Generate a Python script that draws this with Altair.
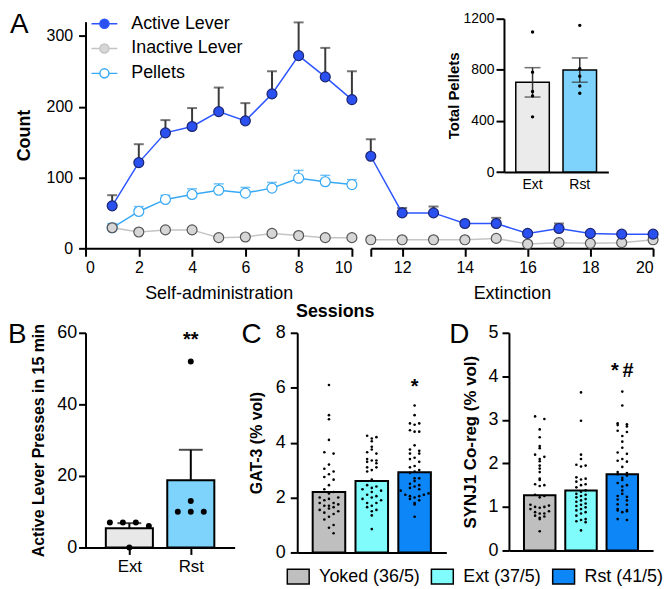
import altair as alt
import pandas as pd

FONT = "Liberation Sans"

# ---------------- Panel A: lever presses / pellets ----------------
sa_sessions = [1, 2, 3, 4, 5, 6, 7, 8, 9, 10]
ext_sessions = [11, 12, 13, 14, 15, 16, 17, 18, 19, 20]
active_sa = [60, 121, 163, 172, 193, 180, 218, 272, 242, 210]
active_sa_sem = [15, 26, 18, 26, 34, 25, 32, 47, 41, 40]
inactive_sa = [29, 23, 26, 26, 15, 16, 21, 18, 15, 15]
pellets_sa = [29, 52, 69, 76, 82, 78, 85, 99, 94, 90]
pellets_sa_sem = [6, 7, 6, 8, 9, 8, 8, 11, 9, 7]
active_ext = [130, 50, 50, 35, 35, 21, 28, 21, 20, 20]
active_ext_sem = [24, 7, 9, 2, 8, 2, 7, 1, 1, 1]
inactive_ext = [12, 12, 12, 12, 14, 6, 8, 7, 8, 12]

series_names = ["Active Lever", "Inactive Lever", "Pellets"]
line_colors = ["#2d55ff", "#c4c4c4", "#38a9f5"]
marker_fills = ["#2a50f0", "#d6d6d6", "#ffffff"]
marker_edges = ["#1b2470", "#555555", "#38a9f5"]

# inset: total pellets
inset_groups = ["Ext", "Rst"]
inset_mean = [702, 798]
inset_sem = [115, 95]
inset_fills = ["#ebebeb", "#7dd3fb"]
inset_ext_pts = [1096, 782, 630, 596, 432]
inset_rst_pts = [1148, 808, 749, 674, 617]

# ---------------- Panel B ----------------
b_groups = ["Ext", "Rst"]
b_mean = [5.4, 18.8]
b_sem = [1.4, 8.5]
b_fills = ["#e8e8e8", "#7dd3fb"]
b_ext_pts = [7, 7, 7, 6, 0]
b_ext_off = [-1.5, -0.5, 0.5, 1.5, 0]
b_rst_pts = [52, 13, 10, 10, 10]
b_rst_off = [0, 0, -1, 0, 1]
b_sig = "**"
b_sig_y = 58

# ---------------- Panels C / D ----------------
cd_groups = ["Yoked (36/5)", "Ext (37/5)", "Rst (41/5)"]
cd_colors = ["#bfbfbf", "#80fcfc", "#0d86f8"]

c_mean = [2.2, 2.6, 2.92]
c_yoked = [6.1, 5.0, 4.85, 4.1, 3.65, 3.6, 3.2, 3.05, 2.95, 2.85, 2.75, 2.65, 2.45, 2.3, 2.2, 2.15, 2.0, 2.0,
           1.95, 1.9, 1.8, 1.8, 1.75, 1.7, 1.7, 1.65, 1.6, 1.55, 1.5, 1.45, 1.4, 1.3, 1.2, 1.0, 0.9, 0.7]
c_yoked_off = [0, 0, 0, 0, -1, 1, 0, -1, 1, 0, -1, 1, 0, -1, 1, 0, -2, 2,
               0, -1, 1, -2, 2, 0, -1, 1, 0, -2, 2, -1, 1, 0, -1, 1, 0, 1]
c_ext = [4.25, 4.2, 4.15, 4.05, 3.85, 3.75, 3.65, 3.6, 3.4, 3.35, 3.35, 3.3, 3.25, 3.1, 3.1, 3.0, 2.95, 2.65,
         2.45, 2.4, 2.35, 2.3, 2.25, 2.2, 2.1, 2.05, 2.0, 1.95, 1.9, 1.8, 1.8, 1.7, 1.65, 1.55, 1.5, 1.35, 0.85]
c_ext_off = [-1, 1, 0, 0, 0, 0, -1, 1, -1, 0, 1, -1, 1, -1, 1, 0, -1, 0,
             -1, 1, 0, -2, 2, 0, -1, 1, 0, -2, 2, -1, 1, 0, -1, 1, 0, 0, 0]
c_rst = [5.35, 5.0, 4.7, 4.7, 4.65, 4.45, 4.4, 4.4, 3.9, 3.75, 3.7, 3.6, 3.6, 3.45, 3.4, 3.3, 3.15, 3.1, 3.0, 2.95,
         2.9, 2.7, 2.7, 2.6, 2.5, 2.45, 2.4, 2.35, 2.3, 2.25, 2.15, 2.1, 2.1, 2.05, 2.05, 2.0, 1.95, 1.9, 1.8, 1.75, 1.3]
c_rst_off = [0, 0, -1, 1, 0, -1, 1, 0, 0, -1, 1, -1, 1, 0, -1, 1, 0, -1, 1, 0,
             -1, 0, 1, 0, -1, 1, 0, -1, 1, -3, 3, -2, 2, -1, 1, 0, -1, 1, 0, 0, 0]
c_sig = "*"
c_sig_y = 6.03

d_mean = [1.27, 1.38, 1.75]
d_yoked = [3.08, 3.02, 2.78, 2.6, 2.4, 2.35, 2.2, 2.15, 2.1, 2.05, 1.95, 1.88, 1.8, 1.65, 1.62, 1.52, 1.5, 1.48,
           1.28, 1.25, 1.22, 1.05, 1.03, 1.0, 1.0, 0.98, 0.95, 0.9, 0.88, 0.85, 0.85, 0.8, 0.78, 0.75, 0.72, 0.44]
d_yoked_off = [-1, 1, 0, 0, 0, 0, -1, 1, 0, 0, 0, 0, 0, 0, 0, -1, 1, 0,
               -1, 1, 0, -2, 2, -1, 1, 0, -2, 2, -1, 1, 0, -1, 1, 0, 0, 0]
d_ext = [3.63, 2.98, 2.2, 2.1, 1.97, 1.95, 1.93, 1.68, 1.65, 1.63, 1.58, 1.52, 1.5, 1.45, 1.38, 1.35, 1.3, 1.28,
         1.25, 1.22, 1.18, 1.15, 1.12, 1.08, 1.05, 1.02, 0.99, 0.95, 0.92, 0.88, 0.85, 0.8, 0.72, 0.7, 0.67, 0.65, 0.46]
d_ext_off = [0, 0, 0, 0, -1, 1, 0, -1, 1, 0, -1, 1, 0, -1, 1, 0, -1, 1,
             0, -1, 1, 0, -1, 1, 0, -1, 1, 0, -1, 1, 0, -1, 1, 0, -1, 1, 0]
d_rst = [3.65, 3.33, 2.92, 2.9, 2.88, 2.85, 2.75, 2.72, 2.63, 2.5, 2.36, 2.25, 2.22, 2.1, 2.06, 2.04, 1.92, 1.8,
         1.78, 1.75, 1.72, 1.67, 1.62, 1.55, 1.5, 1.47, 1.38, 1.3, 1.25, 1.23, 1.17, 1.15, 1.06, 1.05, 0.95, 0.93,
         0.92, 0.9, 0.88, 0.72, 0.7]
d_rst_off = [0, 0, -1, 1, -1, 1, -1, 1, 0, 0, 0, -1, 1, 0, -1, 1, 0, -1,
             1, -1, 1, 0, 0, -1, 1, 0, 0, 0, -1, 1, -1, 1, -1, 1, -1, 1,
             -1, 1, 0, -1, 1]
d_sig = "*\u2009#"
d_sig_y = 4.12


# ============ helpers ============
def series_df(sessions, vals, sems, name):
    idx = series_names.index(name)
    return pd.DataFrame({
        "session": sessions,
        "value": vals,
        "hi": [v + s for v, s in zip(vals, sems)],
        "series": name,
        "edge": marker_edges[idx],
    })


def letter_layer(letter, xpx, ypx):
    return alt.Chart(pd.DataFrame({"t": [letter]})).mark_text(
        align="left", baseline="alphabetic", fontSize=28, font=FONT, color="black"
    ).encode(x=alt.value(xpx), y=alt.value(ypx), text="t:N")


def cat_label_expr(names):
    arr = ",".join("'" + n + "'" for n in names)
    return "[" + arr + "][datum.value]"


SYM_LINE_CIRCLE = ("M-1,0H-0.35M0.35,0H1M-0.35,0A0.35,0.35,0,1,1,0.35,0"
                   "A0.35,0.35,0,1,1,-0.35,0Z")

legA = alt.Legend(orient="none", legendX=5, legendY=-12, title=None,
                  symbolType=SYM_LINE_CIRCLE, symbolSize=676, symbolStrokeWidth=1.5,
                  labelFontSize=18, labelFont=FONT, labelColor="black", labelOffset=13,
                  rowPadding=2, padding=0, symbolOpacity=1)

stroke_scale = alt.Scale(domain=series_names, range=line_colors)
fill_scale = alt.Scale(domain=series_names, range=marker_fills)


def yA(field, show):
    if not show:
        return alt.Y(field, scale=alt.Scale(domain=[0, 320], nice=False), axis=None)
    return alt.Y(field, scale=alt.Scale(domain=[0, 320], nice=False),
                 axis=alt.Axis(values=[0, 100, 200, 300], title="Count", titleFontSize=18,
                               titleFontWeight="bold", labelFontSize=16, labelPadding=6,
                               titlePadding=13))


def a_layers(df, xenc, first, pellets):
    leg = legA if first else None
    base = alt.Chart(df)
    layers = []
    act = base.transform_filter("datum.series == 'Active Lever'")
    layers.append(act.mark_rule(color="#3a3a3a", strokeWidth=2).encode(
        x=xenc, y=yA("value:Q", first), y2="hi:Q"))
    layers.append(act.mark_tick(orient="horizontal", color="#3a3a3a", size=10, thickness=2)
                  .encode(x=xenc, y=yA("hi:Q", first)))
    if pellets:
        pel = base.transform_filter("datum.series == 'Pellets'")
        layers.append(pel.mark_rule(color="#38a9f5", strokeWidth=1.5).encode(
            x=xenc, y=yA("value:Q", first), y2="hi:Q"))
        layers.append(pel.mark_tick(orient="horizontal", color="#38a9f5", size=10, thickness=1.5)
                      .encode(x=xenc, y=yA("hi:Q", first)))
    layers.append(base.mark_line(strokeWidth=1.5).encode(
        x=xenc, y=yA("value:Q", first),
        stroke=alt.Stroke("series:N", scale=stroke_scale, legend=leg)))
    layers.append(base.mark_point(filled=True, shape="circle", size=100, opacity=1, strokeWidth=1.2).encode(
        x=xenc, y=yA("value:Q", first),
        fill=alt.Fill("series:N", scale=fill_scale, legend=leg),
        stroke=alt.Stroke("edge:N", scale=None)))
    return layers


# ============ Panel A ============
left_df = pd.concat([
    series_df(sa_sessions, pellets_sa, pellets_sa_sem, "Pellets"),
    series_df(sa_sessions, inactive_sa, [0] * len(sa_sessions), "Inactive Lever"),
    series_df(sa_sessions, active_sa, active_sa_sem, "Active Lever"),
])
right_df = pd.concat([
    series_df(ext_sessions, inactive_ext, [0] * len(ext_sessions), "Inactive Lever"),
    series_df(ext_sessions, active_ext, active_ext_sem, "Active Lever"),
])

x_left = alt.X("session:Q", scale=alt.Scale(domain=[0, 10], nice=False),
               axis=alt.Axis(values=[0, 2, 4, 6, 8, 10], title="Self-administration", titleFontSize=18,
                             titleFontWeight="normal", labelFontSize=16, tickSize=8, labelPadding=3,
                             titlePadding=10))
x_right = alt.X("session:Q", scale=alt.Scale(domain=[11, 20], nice=False),
                axis=alt.Axis(values=[11, 12, 14, 16, 18, 20], title="Extinction", titleFontSize=18,
                              titleFontWeight="normal", labelFontSize=16, tickSize=8, labelPadding=3,
                              titlePadding=10,
                              labelExpr="datum.value == 11 ? '' : datum.label"))

left_chart = alt.layer(*a_layers(left_df, x_left, True, True), letter_layer("A", -76, 11)).properties(
    width=268, height=228)

right_main = alt.layer(*a_layers(right_df, x_right, False, False))

# inset
inset_df = pd.DataFrame({
    "grp": inset_groups,
    "mean": inset_mean,
    "lo": [m - s for m, s in zip(inset_mean, inset_sem)],
    "hi": [m + s for m, s in zip(inset_mean, inset_sem)],
    "fill": inset_fills,
})
inset_pts = pd.DataFrame({
    "grp": ["Ext"] * len(inset_ext_pts) + ["Rst"] * len(inset_rst_pts),
    "val": inset_ext_pts + inset_rst_pts,
})
xI = alt.X("grp:N", scale=alt.Scale(domain=inset_groups, range=[134, 239], paddingInner=0.29, paddingOuter=0.25),
           axis=alt.Axis(orient="bottom", offset=-76.7, title=None, labelFontSize=14, ticks=False,
                         labelPadding=6, labelAngle=0))


def yI(field):
    return alt.Y(field, scale=alt.Scale(domain=[0, 1200], range=[151.3, -3], nice=False),
                 axis=alt.Axis(orient="left", offset=-134, values=[0, 400, 800, 1200], format="d",
                               title="Total Pellets", titleFontSize=15, titleFontWeight="bold",
                               labelFontSize=14, tickSize=8, labelPadding=2, titlePadding=2))


inset_bars = alt.Chart(inset_df).mark_bar(stroke="black", strokeWidth=1.5).encode(
    x=xI, y=yI("mean:Q"), fill=alt.Fill("fill:N", scale=None))
inset_err = alt.Chart(inset_df).mark_rule(color="#333333", strokeWidth=1.5).encode(
    x=xI, y=yI("lo:Q"), y2="hi:Q")
inset_cap_hi = alt.Chart(inset_df).mark_tick(orient="horizontal", color="#333333", size=16, thickness=1.5).encode(
    x=xI, y=yI("hi:Q"))
inset_cap_lo = alt.Chart(inset_df).mark_tick(orient="horizontal", color="#333333", size=16, thickness=1.5).encode(
    x=xI, y=yI("lo:Q"))
inset_dots = alt.Chart(inset_pts).mark_circle(size=12, color="black", opacity=1).encode(
    x=xI, y=yI("val:Q"))
inset = alt.layer(inset_bars, inset_err, inset_cap_hi, inset_cap_lo, inset_dots)

right_chart = alt.layer(right_main, inset).resolve_scale(x="independent", y="independent").properties(
    width=284, height=228)

top_row = alt.hconcat(left_chart, right_chart, spacing=3).resolve_scale(
    fill="independent", stroke="independent").properties(
    title=alt.TitleParams("Sessions", orient="bottom", fontSize=18, fontWeight="bold", font=FONT,
                          anchor="middle", offset=0, color="black"))

# ============ Panel B ============
B_W, B_H = 150, 216
b_step = B_W / (2 - 0.285 + 2 * 0.275)
b_unit = 14 / b_step  # one jitter slot, in category units
b_df = pd.DataFrame({
    "xpos": [0, 1], "mean": b_mean,
    "hi": [m + s for m, s in zip(b_mean, b_sem)], "fill": b_fills,
})
b_pts = pd.DataFrame({
    "xpos": [0 + o * b_unit for o in b_ext_off] + [1 + o * b_unit for o in b_rst_off],
    "val": b_ext_pts + b_rst_pts,
})
b_lo = -(0.275 + (1 - 0.285) / 2)
xB = alt.X("xpos:Q", scale=alt.Scale(domain=[b_lo, 1 - b_lo], nice=False, zero=False),
           axis=alt.Axis(values=[0, 1], labelExpr=cat_label_expr(b_groups), title=None, labelFontSize=17,
                         labelAngle=0, tickSize=7, labelPadding=4))


def yB(field):
    return alt.Y(field, scale=alt.Scale(domain=[0, 60], nice=False),
                 axis=alt.Axis(values=[0, 20, 40, 60], title="Active Lever Presses in 15 min", titleFontSize=16,
                               titleFontWeight="bold", labelFontSize=18, labelPadding=2, titlePadding=10))


b_bars = alt.Chart(b_df).mark_bar(orient="vertical", size=(1 - 0.285) * b_step, stroke="black",
                                  strokeWidth=2).encode(x=xB, y=yB("mean:Q"), fill=alt.Fill("fill:N", scale=None))
b_err = alt.Chart(b_df).mark_rule(color="black", strokeWidth=2).encode(x=xB, y=yB("mean:Q"), y2="hi:Q")
b_cap = alt.Chart(b_df).mark_tick(orient="horizontal", color="black", size=24, thickness=2).encode(
    x=xB, y=yB("hi:Q"))
b_dots = alt.Chart(b_pts).mark_circle(size=36, color="black", opacity=1).encode(x=xB, y=yB("val:Q"))
b_sig_layer = alt.Chart(pd.DataFrame({"xpos": [1], "y": [b_sig_y], "t": [b_sig]})).mark_text(
    fontSize=20, fontWeight="bold", baseline="middle", font=FONT, color="black").encode(
    x=xB, y=yB("y:Q"), text="t:N")
B_chart = alt.layer(b_err, b_cap, b_bars, b_dots, b_sig_layer, letter_layer("B", -78, 10)).properties(
    width=B_W, height=B_H)

# ============ Panels C / D ============
cd_legend = alt.Legend(orient="none", legendX=-11, legendY=233, direction="horizontal", title=None,
                       symbolType="M-1,-0.667H1V0.667H-1Z", symbolSize=484, symbolStrokeColor="black",
                       symbolStrokeWidth=1.5, labelFontSize=18, labelFont=FONT, labelColor="black",
                       labelOffset=9, columnPadding=8, padding=0, symbolOpacity=1)


def dot_panel(means, pts, offs, ymax, yvals, ytitle, ytitle_size, width, height, sig_text, sig_y,
              letter, letter_x, letter_y, label_pad, title_pad):
    step = width / (3 - 0.29 + 2 * 0.27)
    bw = step * (1 - 0.29)
    unit = 5 / step
    lo = -(0.27 + (1 - 0.29) / 2)
    bar_df = pd.DataFrame({"xpos": [0, 1, 2], "grp": cd_groups, "mean": means})
    rows = []
    for i, (vals, ofs) in enumerate(zip(pts, offs)):
        for v, o in zip(vals, ofs):
            rows.append({"xpos": i + o * unit, "val": v})
    dot_df = pd.DataFrame(rows)
    x = alt.X("xpos:Q", scale=alt.Scale(domain=[lo, 2 - lo], nice=False, zero=False),
              axis=alt.Axis(title=None, labels=False, ticks=False, values=[0, 1, 2]))

    def y(field):
        return alt.Y(field, scale=alt.Scale(domain=[0, ymax], nice=False),
                     axis=alt.Axis(values=yvals, title=ytitle, titleFontSize=ytitle_size, titleFontWeight="bold",
                                   labelFontSize=18, labelPadding=label_pad, titlePadding=title_pad))

    bars = alt.Chart(bar_df).mark_bar(orient="vertical", size=bw, stroke="black", strokeWidth=2).encode(
        x=x, y=y("mean:Q"),
        fill=alt.Fill("grp:N", scale=alt.Scale(domain=cd_groups, range=cd_colors), legend=cd_legend))
    dots = alt.Chart(dot_df).mark_circle(size=7, color="black", opacity=1).encode(x=x, y=y("val:Q"))
    sig = alt.Chart(pd.DataFrame({"xpos": [2], "y": [sig_y], "t": [sig_text]})).mark_text(
        fontSize=20, fontWeight="bold", baseline="middle", font=FONT, color="black").encode(
        x=x, y=y("y:Q"), text="t:N")
    return alt.layer(bars, dots, sig, letter_layer(letter, letter_x, letter_y)).properties(
        width=width, height=height)


C_chart = dot_panel(c_mean, [c_yoked, c_ext, c_rst], [c_yoked_off, c_ext_off, c_rst_off],
                    8, [0, 2, 4, 6, 8], "GAT-3 (% vol)", 16, 150, 221, c_sig, c_sig_y,
                    "C", -56, 10, 5, 11)
D_chart = dot_panel(d_mean, [d_yoked, d_ext, d_rst], [d_yoked_off, d_ext_off, d_rst_off],
                    5, [0, 1, 2, 3, 4, 5], "SYNJ1 Co-reg (% vol)", 17, 145, 219, d_sig, d_sig_y,
                    "D", -60, 10, 4, 9)

cd_row = alt.hconcat(C_chart, D_chart, spacing=3).resolve_scale(fill="shared")
bottom_row = alt.hconcat(B_chart, cd_row, spacing=7).resolve_scale(fill="independent")

chart = alt.vconcat(top_row, bottom_row, spacing=0).resolve_scale(
    fill="independent", stroke="independent").properties(padding=0).configure(font=FONT).configure_axis(
    domainColor="black", domainWidth=2, tickColor="black", tickWidth=2, tickSize=7, labelColor="black",
    titleColor="black", labelFont=FONT, titleFont=FONT, grid=False).configure_view(stroke=None)

chart.save("out.html", embed_options={"renderer": "svg", "actions": False})
